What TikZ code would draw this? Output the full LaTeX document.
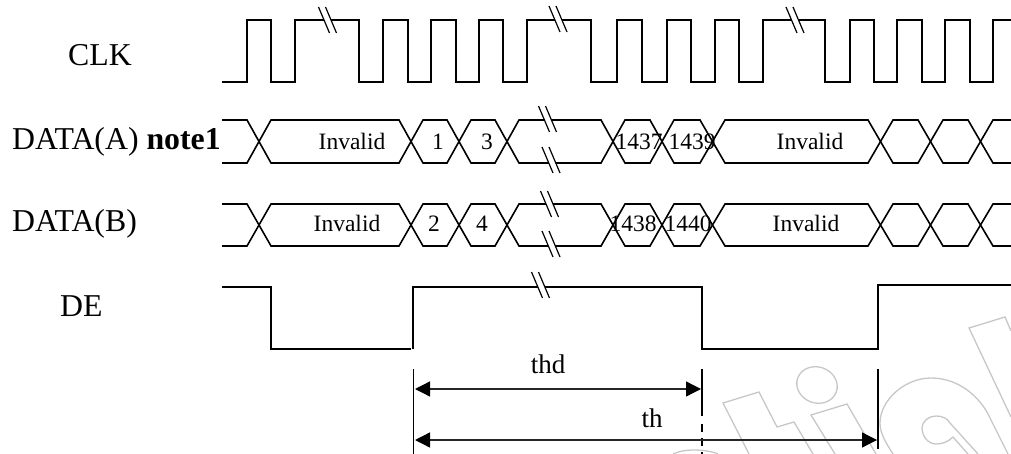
\documentclass[tikz,border=0pt]{standalone}
\usepackage{fontspec}
\setmainfont{Liberation Serif}
\usetikzlibrary{arrows.meta}
\tikzset{
  sig/.style={line width=1.6pt,black,line join=miter},
  brkline/.style={line width=1.2pt,black},
  wm/.style={line width=1.3pt,draw=black!22},
  dimline/.style={line width=1.3pt,black!85,{Triangle[length=15pt,width=15pt,black]}-{Triangle[length=15pt,width=15pt,black]}},
  guide/.style={line width=1.5pt,black},
  lab/.style={font=\fontsize{31.8pt}{33pt}\selectfont,anchor=base west,inner sep=0pt},
  cell/.style={font=\fontsize{23.5pt}{25pt}\selectfont,anchor=base,inner sep=0pt},
  dimlab/.style={font=\fontsize{27pt}{29pt}\selectfont,anchor=base,inner sep=0pt}
}
\newcommand{\brkmark}[2]{%
  \fill[white] (#1-9,#2-13) -- (#1-2,#2-13) -- (#1+9,#2+13) -- (#1+2,#2+13) -- cycle;
  \draw[brkline] (#1-9,#2-13) -- (#1+2,#2+13);
  \draw[brkline] (#1-2,#2-13) -- (#1+9,#2+13);
}
\newcommand{\busA}[2]{%
  \draw[sig] (222,#1) -- (247,#1) -- (271,#2) -- (399,#2) -- (423,#1) -- (447,#1) -- (471,#2) -- (495,#2) -- (519,#1) -- (601,#1) -- (625,#2) -- (650,#2) -- (674,#1) -- (700,#1) -- (725,#2) -- (868,#2) -- (893,#1) -- (918,#1) -- (943,#2) -- (968,#2) -- (993,#1) -- (1011,#1);
  \draw[sig] (222,#2) -- (247,#2) -- (271,#1) -- (399,#1) -- (423,#2) -- (447,#2) -- (471,#1) -- (495,#1) -- (519,#2) -- (601,#2) -- (625,#1) -- (650,#1) -- (674,#2) -- (700,#2) -- (725,#1) -- (868,#1) -- (893,#2) -- (918,#2) -- (943,#1) -- (968,#1) -- (993,#2) -- (1011,#2);
}
\begin{document}
\begin{tikzpicture}[x=1pt,y=-1pt]
\useasboundingbox (0,0) rectangle (1011,454);
% watermark
\draw[wm] (749,454) -- (723,403) -- (759,392) -- (777,427) -- (794,422) -- (813,454);
\draw[wm,rotate around={-20:(817,385)}] (817,385) ellipse [x radius=20.5,y radius=18];
\draw[wm] (835,454) -- (811,415) -- (847,404) -- (876,454);
\draw[wm] (893,454) .. controls (884,440) and (880,432) .. (880,423) .. controls (880,400) and (905,378) .. (931,378) .. controls (955,378) and (975,392) .. (987,412) -- (1008,454);
\draw[wm] (968,454) -- (953,437) .. controls (948,442) and (942,444) .. (936,444) .. controls (928,444) and (922,436) .. (922,428) .. controls (922,421) and (929,416) .. (936,416) .. controls (942,416) and (947,418) .. (950,423) -- (978,454);
\draw[wm] (1011,417) -- (969,328) -- (1005,317) -- (1011,331);
\draw[wm] (673,454) .. controls (680,451) and (686,450) .. (693,450) .. controls (702,450) and (711,451) .. (718,454);
% CLK
\draw[sig] (222,82) -- (247,82) -- (247,20) -- (271,20) -- (271,82) -- (295,82) -- (295,20) -- (359,20) -- (359,82) -- (383,82) -- (383,20) -- (408,20) -- (408,82) -- (431,82) -- (431,20) -- (456,20) -- (456,82) -- (479,82) -- (479,20) -- (503,20) -- (503,82) -- (527,82) -- (527,20) -- (591,20) -- (591,82) -- (617,82) -- (617,20) -- (642,20) -- (642,82) -- (667,82) -- (667,20) -- (691,20) -- (691,82) -- (715,82) -- (715,20) -- (739,20) -- (739,82) -- (763,82) -- (763,20) -- (825,20) -- (825,82) -- (850,82) -- (850,20) -- (874,20) -- (874,82) -- (897,82) -- (897,20) -- (922,20) -- (922,82) -- (945,82) -- (945,20) -- (970,20) -- (970,82) -- (993,82) -- (993,20) -- (1011,20);
\brkmark{327.5}{20}
\brkmark{558}{19}
\brkmark{795}{20}
% DATA
\busA{120}{163}
\busA{204}{246}
\draw[line width=2.2pt] (738,163) -- (750,163);
\draw[line width=2.2pt] (738,204) -- (750,204);
\brkmark{547.5}{119}
\brkmark{551}{160}
\brkmark{549.5}{204}
\brkmark{551}{244}
% DE
\draw[sig] (222,287) -- (271,287) -- (271,349) -- (411,349);
\draw[sig] (413,349) -- (413,287) -- (702,287) -- (702,349) -- (878,349) -- (878,285) -- (1011,285);
\brkmark{540.5}{285}
% dimension guides
\coordinate (g1t) at (413.5,369);
\coordinate (g1b) at (413.5,454);
\coordinate (g2t) at (702,369);
\coordinate (g2m) at (702,416);
\coordinate (g2d) at (702,424);
\coordinate (g2b) at (702,454);
\coordinate (g3t) at (878,369);
\coordinate (g3b) at (878,449);
\draw[guide] (g1t) -- (g1b);
\draw[guide] (g2t) -- (g2m);
\draw[guide,dash pattern=on 7.5pt off 6.5pt] (g2d) -- (g2b);
\draw[guide] (g3t) -- (g3b);
\coordinate (a1) at (415,389);
\coordinate (a2) at (701,389);
\coordinate (b1) at (415,440);
\coordinate (b2) at (877,440);
\draw[dimline] (a1) -- (a2);
\draw[dimline] (b1) -- (b2);
% labels
\node[lab] (clk) at (68,66) {CLK};
\node[lab] (dataa) at (12,150) {DATA(A) \textbf{note1}};
\node[lab] (datab) at (12,232) {DATA(B)};
\node[lab] (de) at (60,316) {DE};
\node[cell] (inva) at (352,150) {Invalid};
\node[cell] (na1) at (438,150) {1};
\node[cell] (na3) at (487,150) {3};
\node[cell] (na1437) at (639,150) {1437};
\node[cell] (na1439) at (692,150) {1439};
\node[cell] (inva2) at (810,150) {Invalid};
\node[cell] (invb) at (347,232) {Invalid};
\node[cell] (nb2) at (434,232) {2};
\node[cell] (nb4) at (482,232) {4};
\node[cell] (nb1438) at (633,232) {1438};
\node[cell] (nb1440) at (688,232) {1440};
\node[cell] (invb2) at (806,232) {Invalid};
\node[dimlab] (thd) at (548,373) {thd};
\node[dimlab] (th) at (652,427) {th};
\end{tikzpicture}
\end{document}
